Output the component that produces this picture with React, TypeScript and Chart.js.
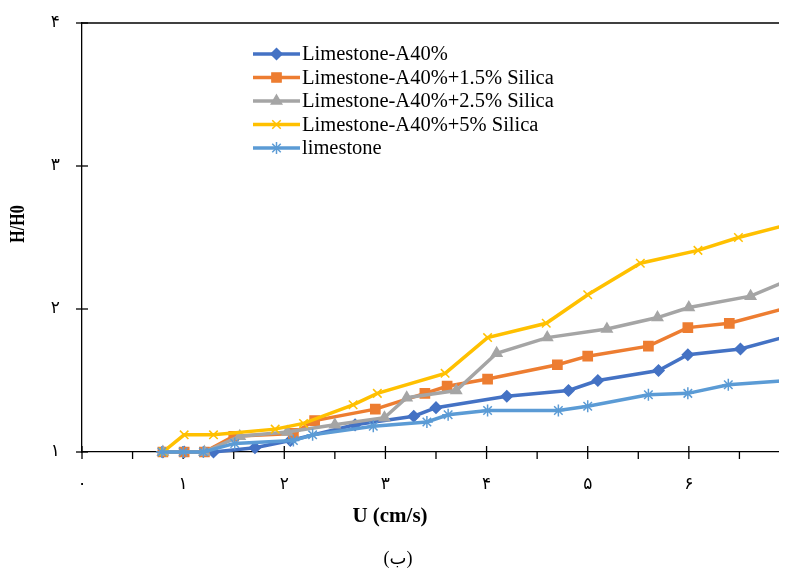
import React, { useEffect, useRef } from "react";
import { Chart, registerables } from "chart.js";
import * as helpers from "chart.js/helpers";

Chart.register(...registerables);

// ---- data ----
const seriesNames = [
  "Limestone-A40%",
  "Limestone-A40%+1.5% Silica",
  "Limestone-A40%+2.5% Silica",
  "Limestone-A40%+5% Silica",
  "limestone",
];
const seriesColors = ["#4472C4", "#ED7D31", "#A5A5A5", "#FFC000", "#5B9BD5"];
const seriesPointStyles = ["rectRot", "rect", "triangle", "crossRot", "star"];
const seriesPointRadius = [5.5, 6.5, 6, 6, 6];

const uA40 = [0.8, 1.01, 1.3, 1.71, 2.06, 2.7, 3.28, 3.5, 4.2, 4.81, 5.1, 5.7, 5.99, 6.51, 6.98];
const hA40 = [1.0, 1.0, 1.0, 1.03, 1.08, 1.19, 1.25, 1.31, 1.39, 1.43, 1.5, 1.57, 1.68, 1.72, 1.81];

const uS15 = [0.8, 1.01, 1.21, 1.5, 2.09, 2.3, 2.9, 3.39, 3.61, 4.01, 4.7, 5.0, 5.6, 5.99, 6.4, 6.98];
const hS15 = [1.0, 1.0, 1.0, 1.11, 1.13, 1.22, 1.3, 1.41, 1.46, 1.51, 1.61, 1.67, 1.74, 1.87, 1.9, 2.01];

const uS25 = [0.8, 1.21, 1.56, 2.03, 2.5, 2.99, 3.21, 3.7, 4.1, 4.6, 5.19, 5.69, 6.0, 6.61, 6.98];
const hS25 = [1.0, 1.0, 1.11, 1.14, 1.19, 1.24, 1.38, 1.43, 1.69, 1.8, 1.86, 1.94, 2.01, 2.09, 2.2];

const uS5 = [0.8, 1.01, 1.3, 1.91, 2.19, 2.68, 2.92, 3.59, 4.01, 4.59, 5.0, 5.52, 6.09, 6.49, 6.98];
const hS5 = [1.0, 1.12, 1.12, 1.16, 1.2, 1.33, 1.41, 1.55, 1.8, 1.9, 2.1, 2.32, 2.41, 2.5, 2.59];

const uLime = [0.79, 1.0, 1.2, 1.51, 2.09, 2.28, 2.88, 3.41, 3.62, 4.01, 4.71, 5.0, 5.6, 5.99, 6.39, 6.98];
const hLime = [1.0, 1.0, 1.0, 1.06, 1.08, 1.12, 1.18, 1.21, 1.26, 1.29, 1.29, 1.32, 1.4, 1.41, 1.47, 1.5];

const seriesU = [uA40, uS15, uS25, uS5, uLime];
const seriesH = [hA40, hS15, hS25, hS5, hLime];

const xTickLabels = ["۰", "۱", "۲", "۳", "۴", "۵", "۶", "۷"];
const yTickLabels = ["۱", "۲", "۳", "۴"];
const xTitle = "U (cm/s)";
const yTitle = "H/H0";
const caption = "(ب)";

const SERIF = "'Liberation Serif', 'Times New Roman', 'DejaVu Sans', serif";

const axisPlugin = {
  id: "axisDecor",
  beforeDatasetsDraw(chart: any) {
    const { ctx, chartArea, scales } = chart;
    const xs = scales.x;
    const ys = scales.y;
    ctx.save();
    ctx.strokeStyle = "#000";
    ctx.lineWidth = 1.3;
    // top border
    ctx.beginPath();
    ctx.moveTo(chartArea.left, chartArea.top);
    ctx.lineTo(chartArea.right + 20, chartArea.top);
    ctx.stroke();
    // y major ticks crossing axis
    for (let v = 1; v <= 4; v++) {
      const y = ys.getPixelForValue(v);
      ctx.beginPath();
      ctx.moveTo(chartArea.left - 6, y);
      ctx.lineTo(chartArea.left + 6, y);
      ctx.stroke();
    }
    // x major ticks crossing, minor below
    for (let v = 0; v <= 7; v += 0.5) {
      const x = xs.getPixelForValue(v);
      const major = Number.isInteger(v);
      ctx.beginPath();
      ctx.moveTo(x, major ? chartArea.bottom - 6 : chartArea.bottom);
      ctx.lineTo(x, chartArea.bottom + 7);
      ctx.stroke();
    }
    ctx.restore();
  },
  afterDraw(chart: any) {
    const { ctx } = chart;
    ctx.save();
    ctx.fillStyle = "#000";
    // x title
    ctx.font = `bold 21px ${SERIF}`;
    ctx.textAlign = "center";
    ctx.textBaseline = "middle";
    ctx.fillText(xTitle, 382, 509);
    // caption
    ctx.font = `18px ${SERIF}`;
    ctx.fillText(caption, 390, 551);
    // y title
    ctx.save();
    ctx.translate(11, 216);
    ctx.rotate(-Math.PI / 2);
    ctx.scale(1, 1.3);
    ctx.font = `bold 16px ${SERIF}`;
    ctx.fillText(yTitle, 0, 0);
    ctx.restore();

    // legend
    const x0 = 245;
    const x1 = 292;
    const y0 = 46;
    const dy = 23.5;
    ctx.font = `20.5px ${SERIF}`;
    ctx.textAlign = "left";
    ctx.textBaseline = "middle";
    for (let i = 0; i < seriesNames.length; i++) {
      const y = y0 + i * dy;
      ctx.strokeStyle = seriesColors[i];
      ctx.fillStyle = seriesColors[i];
      ctx.lineWidth = 3.5;
      ctx.beginPath();
      ctx.moveTo(x0, y);
      ctx.lineTo(x1, y);
      ctx.stroke();
      ctx.lineWidth = 1.5;
      helpers.drawPoint(ctx, { pointStyle: seriesPointStyles[i], radius: seriesPointRadius[i], rotation: 0, borderWidth: 1.5 }, (x0 + x1) / 2, y);
      ctx.fillStyle = "#000";
      ctx.fillText(seriesNames[i], x1 + 2, y + 1);
    }
    ctx.restore();
  },
};

export default function App() {
  const canvasRef = useRef<HTMLCanvasElement | null>(null);

  useEffect(() => {
    document.body.style.overflow = "hidden";
    const canvas = canvasRef.current;
    if (!canvas) return;
    const datasets = seriesNames.map((name, i) => ({
      label: name,
      data: seriesU[i].map((u, k) => ({ x: u, y: seriesH[i][k] })),
      borderColor: seriesColors[i],
      backgroundColor: seriesColors[i],
      pointBackgroundColor: seriesColors[i],
      pointBorderColor: seriesColors[i],
      borderWidth: 3.5,
      pointStyle: seriesPointStyles[i],
      pointRadius: seriesPointRadius[i],
      pointBorderWidth: 1.5,
      tension: 0,
      clip: false,
      order: seriesNames.length - 1 - i,
    }));
    const hiddenTicks = {
      display: true,
      drawOnChartArea: false,
      drawTicks: true,
      tickLength: 22,
      tickColor: "rgba(0,0,0,0)",
      color: "rgba(0,0,0,0)",
    };
    const chart = new Chart(canvas, {
      type: "line",
      data: { datasets },
      options: {
        animation: false,
        responsive: false,
        devicePixelRatio: 1,
        layout: { padding: { top: 15, right: 18, left: 0, bottom: 0 } },
        plugins: { legend: { display: false }, tooltip: { enabled: false } },
        scales: {
          x: {
            type: "linear",
            min: 0,
            max: 7,
            afterFit: (s: any) => {
              s.height = 119;
            },
            grid: hiddenTicks,
            border: { display: true, color: "#000", width: 1.3 },
            ticks: {
              stepSize: 1,
              autoSkip: false,
              maxRotation: 0,
              padding: 0,
              color: "#000",
              font: { family: SERIF, size: 17 },
              callback: (v: any) => xTickLabels[Math.round(v)] ?? "",
            },
          },
          y: {
            type: "linear",
            min: 1,
            max: 4,
            afterFit: (s: any) => {
              s.width = 74;
            },
            grid: hiddenTicks,
            border: { display: true, color: "#000", width: 1.3 },
            ticks: {
              stepSize: 1,
              autoSkip: false,
              padding: 0,
              color: "#000",
              font: { family: SERIF, size: 17 },
              callback: (v: any) => yTickLabels[Math.round(v) - 1] ?? "",
            },
          },
        },
      },
      plugins: [axisPlugin],
    } as any);
    return () => chart.destroy();
  }, []);

  return (
    <div style={{ width: 779, height: 563, overflow: "hidden", position: "relative" }}>
      <canvas ref={canvasRef} width={800} height={563} style={{ display: "block", width: 800, height: 563 }} />
    </div>
  );
}
